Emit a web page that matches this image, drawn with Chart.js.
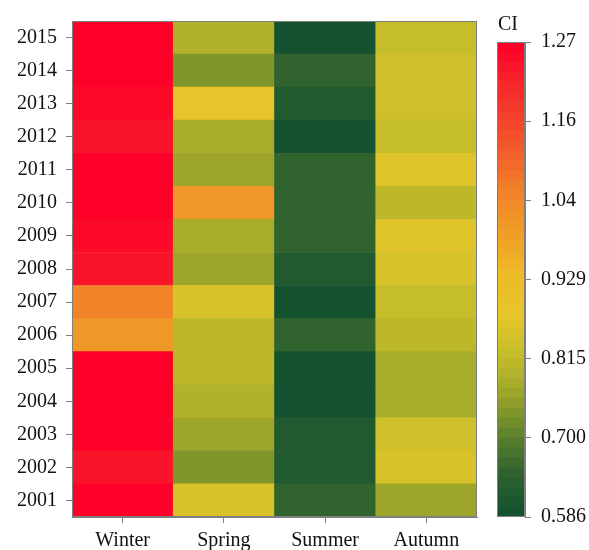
<!DOCTYPE html>
<html>
<head>
<meta charset="utf-8">
<script src="https://cdn.jsdelivr.net/npm/chart.js@4/dist/chart.umd.min.js"></script>
<style>
  html, body { margin: 0; padding: 0; background: #ffffff; }
  #wrap { position: relative; width: 589px; height: 550px; }
  #heat { position: absolute; left: 0; top: 0; width: 478px; height: 550px; }
  #bar  { position: absolute; left: 477px; top: 0; width: 112px; height: 550px; }
</style>
</head>
<body>
<div id="wrap">
  <canvas id="heat" width="478" height="550"></canvas>
  <canvas id="bar" width="112" height="550"></canvas>
</div>
<script>
// Seasonal CI values, 2001 → 2015
const seasons = ['Winter', 'Spring', 'Summer', 'Autumn'];
const years = [2001, 2002, 2003, 2004, 2005, 2006, 2007, 2008, 2009, 2010, 2011, 2012, 2013, 2014, 2015];
const winter = [1.26, 1.23, 1.26, 1.27, 1.27, 1.01, 1.05, 1.23, 1.25, 1.27, 1.27, 1.24, 1.25, 1.27, 1.26];
const spring = [0.855, 0.73, 0.76, 0.79, 0.81, 0.81, 0.845, 0.76, 0.78, 1.01, 0.76, 0.78, 0.89, 0.73, 0.79];
const summer = [0.65, 0.615, 0.615, 0.59, 0.586, 0.65, 0.59, 0.615, 0.65, 0.65, 0.65, 0.586, 0.615, 0.65, 0.59];
const autumn = [0.76, 0.845, 0.84, 0.78, 0.78, 0.80, 0.815, 0.845, 0.87, 0.81, 0.87, 0.82, 0.83, 0.83, 0.82];

// Colour scale range and its labels
const ciMin = 0.586;
const ciMax = 1.27;
const ciTickLabels = ['0.586', '0.700', '0.815', '0.929', '1.04', '1.16', '1.27'];

const seriesBySeason = [winter, spring, summer, autumn];

// Green → yellow → orange → red palette, split into discrete bands
const NBANDS = 48;
const stops = [
  [0.0000, '#145230'],
  [0.0833, '#2f622e'],
  [0.1667, '#5f832c'],
  [0.2500, '#9aa52b'],
  [0.3333, '#c3bc2a'],
  [0.4167, '#e5c62a'],
  [0.5000, '#ecbd28'],
  [0.5833, '#f0a226'],
  [0.6667, '#f18a28'],
  [0.7500, '#f2682a'],
  [0.8333, '#f3462b'],
  [0.9167, '#f6282b'],
  [1.0000, '#ff0028']
];
function hexToRgb(h) {
  return [parseInt(h.slice(1, 3), 16), parseInt(h.slice(3, 5), 16), parseInt(h.slice(5, 7), 16)];
}
function rampAt(t) {
  t = Math.max(0, Math.min(1, t));
  for (let i = 1; i < stops.length; i++) {
    if (t <= stops[i][0]) {
      const [t0, c0] = stops[i - 1];
      const [t1, c1] = stops[i];
      const f = (t - t0) / (t1 - t0);
      const a = hexToRgb(c0), b = hexToRgb(c1);
      const c = a.map((v, k) => Math.round(v + (b[k] - v) * f));
      return `rgb(${c[0]},${c[1]},${c[2]})`;
    }
  }
  return stops[stops.length - 1][1];
}
function bandOf(v) {
  const t = (v - ciMin) / (ciMax - ciMin);
  return Math.max(0, Math.min(NBANDS - 1, Math.floor(t * NBANDS)));
}
function bandColor(k) { return rampAt(k / (NBANDS - 1)); }
function colorFor(v) { return bandColor(bandOf(v)); }

const serif = 'Liberation Serif';
const axisGray = '#7f7f7f';
const textColor = '#111111';

// Thin frame around the plotting area
const frame = {
  id: 'frame',
  afterDatasetsDraw(chart) {
    const { ctx, chartArea: a } = chart;
    ctx.save();
    ctx.strokeStyle = axisGray;
    ctx.lineWidth = 1;
    ctx.strokeRect(a.left + 0.5, a.top + 0.5, a.right - a.left - 1, a.bottom - a.top - 1);
    ctx.restore();
  }
};

// Heatmap: one floating-bar dataset per year, each cell spans year ± 0.5
const heatDatasets = years.map((yr, yi) => ({
  label: String(yr),
  data: seasons.map(() => [yr - 0.5, yr + 0.5]),
  backgroundColor: seriesBySeason.map(s => colorFor(s[yi])),
  borderWidth: 0,
  grouped: false,
  barPercentage: 1,
  categoryPercentage: 1
}));

new Chart(document.getElementById('heat'), {
  type: 'bar',
  data: { labels: seasons, datasets: heatDatasets },
  options: {
    responsive: false,
    animation: false,
    layout: { padding: { top: 14, right: 1, left: 0, bottom: 0 } },
    plugins: { legend: { display: false }, tooltip: { enabled: false } },
    scales: {
      x: {
        type: 'category',
        offset: true,
        grid: { offset: false, drawOnChartArea: false, drawTicks: true, tickLength: 6, color: axisGray },
        border: { display: true, color: axisGray },
        ticks: { padding: 6, color: textColor, font: { family: serif, size: 20 } },
        afterFit(s) { s.height = 33; }
      },
      y: {
        type: 'linear',
        min: years[0] - 0.5,
        max: years[years.length - 1] + 0.5,
        afterBuildTicks(s) { s.ticks = years.map(v => ({ value: v })); },
        grid: { drawOnChartArea: false, drawTicks: true, tickLength: 6, color: axisGray },
        border: { display: true, color: axisGray },
        ticks: {
          autoSkip: false, padding: 9, color: textColor,
          font: { family: serif, size: 20 },
          callback: v => String(v)
        },
        afterFit(s) { s.width = 72; }
      }
    }
  },
  plugins: [frame]
});

// Colour bar: stacked bands of the same palette
const bandStep = (ciMax - ciMin) / NBANDS;
const barDatasets = Array.from({ length: NBANDS }, (_, k) => ({
  data: [[ciMin + k * bandStep, ciMin + (k + 1) * bandStep]],
  backgroundColor: bandColor(k),
  borderWidth: 0,
  grouped: false,
  barPercentage: 1,
  categoryPercentage: 1
}));

const ciTitle = {
  id: 'ciTitle',
  afterDraw(chart) {
    const { ctx, chartArea: a } = chart;
    ctx.save();
    ctx.fillStyle = textColor;
    ctx.font = `20px "${serif}"`;
    ctx.textBaseline = 'alphabetic';
    ctx.textAlign = 'left';
    ctx.fillText('CI', a.left + 1, a.top - 12);
    ctx.restore();
  }
};

new Chart(document.getElementById('bar'), {
  type: 'bar',
  data: { labels: ['CI'], datasets: barDatasets },
  options: {
    responsive: false,
    animation: false,
    layout: { padding: { top: 42, right: 0, left: 20, bottom: 33 } },
    plugins: { legend: { display: false }, tooltip: { enabled: false } },
    scales: {
      x: { display: false, offset: true },
      y: {
        type: 'linear',
        position: 'right',
        min: ciMin,
        max: ciMax,
        afterBuildTicks(s) {
          const n = ciTickLabels.length;
          s.ticks = ciTickLabels.map((_, i) => ({ value: ciMin + (ciMax - ciMin) * i / (n - 1) }));
        },
        grid: { drawOnChartArea: false, drawTicks: true, tickLength: 6, color: axisGray },
        border: { display: true, color: axisGray },
        ticks: {
          autoSkip: false, padding: 10, color: textColor,
          font: { family: serif, size: 20 },
          callback: (v, i) => ciTickLabels[i]
        },
        afterFit(s) { s.width = 64; }
      }
    }
  },
  plugins: [frame, ciTitle]
});
</script>
</body>
</html>
